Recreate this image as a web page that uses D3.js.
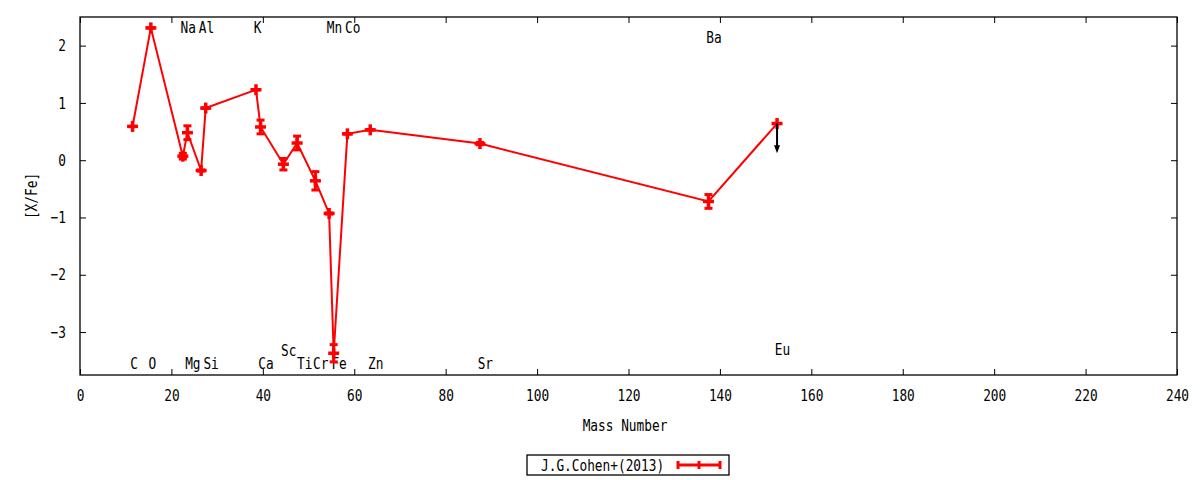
<!DOCTYPE html>
<html>
<head>
<meta charset="utf-8">
<script src="https://cdn.jsdelivr.net/npm/d3@7"></script>
<style>
  body { margin: 0; background: #fff; }
  text { font-family: "DejaVu Sans Mono", monospace; font-size: 16px; fill: #000; }
</style>
</head>
<body>
<section></section>
<script>
//Abundance points, x is where the point sits on the mass axis
const pointX = [11.5, 15.5, 22.5, 23.5, 26.5, 27.5, 38.5, 39.5, 44.5, 47.5, 51.5, 54.5, 55.5, 58.5, 63.5, 87.5, 137.5, 152.5];
const pointY = [0.59, 2.31, 0.07, 0.48, -0.18, 0.91, 1.23, 0.58, -0.07, 0.30, -0.36, -0.93, -3.37, 0.46, 0.53, 0.29, -0.72, 0.64];
const pointErr = [0.0, 0.0, 0.05, 0.12, 0.01, 0.0, 0.0, 0.12, 0.10, 0.12, 0.16, 0.01, 0.15, 0.0, 0.0, 0.02, 0.12, 0.0];

//Upper limit arrow (Eu)
const limitX = [152.5];
const limitFrom = [0.64];
const limitTo = [0.12];

//Element names written on the chart
const labelText = ["C", "O", "Na", "Mg", "Al", "Si", "K", "Ca", "Sc", "Ti", "Cr", "Mn", "Fe", "Co", "Zn", "Sr", "Ba", "Eu"];
const labelX = [11, 15, 22, 23, 26, 27, 38, 39, 44, 47.5, 51, 54, 55, 58, 63, 87, 137, 152];
const labelY = [-3.55, -3.55, 2.32, -3.55, 2.32, -3.55, 2.32, -3.55, -3.31, -3.55, -3.55, 2.32, -3.55, 2.32, -3.55, -3.55, 2.15, -3.30];

//Axis ticks
const xTicks = [0, 20, 40, 60, 80, 100, 120, 140, 160, 180, 200, 220, 240];
const yTicks = [-3, -2, -1, 0, 1, 2];

const seriesName = "J.G.Cohen+(2013)";

let width = 1200;
let height = 480;
const plotLeft = 80, plotRight = 1177, plotTop = 17, plotBottom = 375;
const squeeze = 0.8; //the font is narrower than DejaVu Sans Mono

let svg = d3
    .select("section")
    .append("svg")
    .attr("width", width)
    .attr("height", height);

//Scales
const x = d3.scaleLinear().domain([0, 240]).range([plotLeft, plotRight]);
const y = d3.scaleLinear().domain([-3.75, 2.5]).range([plotBottom, plotTop]);

//Helper to place narrow text
function narrow(sel, px, py, rotate) {
    sel.attr("x", 0).attr("y", 0)
        .attr("transform", `translate(${px},${py})` + (rotate ? ` rotate(${rotate})` : "") + ` scale(${squeeze},1)`);
}

//Axes with inward ticks, mirrored on top and right
svg.append("g")
    .attr("transform", `translate(0,${plotBottom})`)
    .call(d3.axisBottom(x).tickValues(xTicks).tickSize(-6).tickPadding(14.3).tickFormat(d3.format("d")))
    .call(g => g.selectAll("text").attr("transform", `scale(${squeeze},1)`));

svg.append("g")
    .attr("transform", `translate(0,${plotTop})`)
    .call(d3.axisTop(x).tickValues(xTicks).tickSize(-6).tickFormat(""));

svg.append("g")
    .attr("transform", `translate(${plotLeft},0)`)
    .call(d3.axisLeft(y).tickValues(yTicks).tickSize(-6).tickFormat(d3.format("d")))
    .call(g => g.selectAll("text").attr("x", 0).attr("transform", `translate(-14,0) scale(${squeeze},1)`));

svg.append("g")
    .attr("transform", `translate(${plotRight},0)`)
    .call(d3.axisRight(y).tickValues(yTicks).tickSize(-6).tickFormat(""));

svg.selectAll(".domain").remove();
svg.selectAll(".tick line").attr("stroke", "#000");
svg.selectAll(".tick text").style("font-family", "DejaVu Sans Mono").style("font-size", "16px").attr("fill", "#000");

//Frame
svg.append("rect")
    .attr("x", plotLeft)
    .attr("y", plotTop)
    .attr("width", plotRight - plotLeft)
    .attr("height", plotBottom - plotTop)
    .attr("fill", "none")
    .attr("stroke", "#000")
    .attr("stroke-width", 1.3);

//Axis titles
svg.append("text")
    .text("Mass Number")
    .attr("text-anchor", "middle")
    .call(narrow, 625, 431);

svg.append("text")
    .text("[X/Fe]")
    .attr("text-anchor", "middle")
    .call(narrow, 37, 196, -90);

//Element labels (drawn under the points)
labelText.forEach(function (name, i) {
    svg.append("text")
        .text(name)
        .attr("text-anchor", "start")
        .call(narrow, x(labelX[i]), y(labelY[i]) + 5.8);
});

//Connecting line
const points = pointX.map((px, i) => ({ x: px, y: pointY[i], err: pointErr[i] }));

svg.append("path")
    .datum(points)
    .attr("fill", "none")
    .attr("stroke", "red")
    .attr("stroke-width", 2)
    .attr("d", d3.line().x(d => x(d.x)).y(d => y(d.y)));

//Error bars with caps
const bars = svg.append("g").attr("stroke", "red").attr("stroke-width", 3);

bars.selectAll(".err")
    .data(points)
    .enter()
    .append("line")
    .attr("x1", d => x(d.x)).attr("x2", d => x(d.x))
    .attr("y1", d => y(d.y - d.err)).attr("y2", d => y(d.y + d.err));

bars.selectAll(".capTop")
    .data(points)
    .enter()
    .append("line")
    .attr("x1", d => x(d.x) - 4).attr("x2", d => x(d.x) + 4)
    .attr("y1", d => y(d.y + d.err)).attr("y2", d => y(d.y + d.err));

bars.selectAll(".capBottom")
    .data(points)
    .enter()
    .append("line")
    .attr("x1", d => x(d.x) - 4).attr("x2", d => x(d.x) + 4)
    .attr("y1", d => y(d.y - d.err)).attr("y2", d => y(d.y - d.err));

//Plus markers
const marks = svg.append("g").attr("stroke", "red").attr("stroke-width", 3.5);

marks.selectAll(".markH")
    .data(points)
    .enter()
    .append("line")
    .attr("x1", d => x(d.x) - 5.5).attr("x2", d => x(d.x) + 5.5)
    .attr("y1", d => y(d.y)).attr("y2", d => y(d.y));

marks.selectAll(".markV")
    .data(points)
    .enter()
    .append("line")
    .attr("x1", d => x(d.x)).attr("x2", d => x(d.x))
    .attr("y1", d => y(d.y) - 5.5).attr("y2", d => y(d.y) + 5.5);

//Upper limit arrow
limitX.forEach(function (lx, i) {
    const ax = x(lx);
    const y0 = y(limitFrom[i]);
    const y1 = y(limitTo[i]);
    svg.append("line")
        .attr("x1", ax).attr("x2", ax)
        .attr("y1", y0).attr("y2", y1 - 6)
        .attr("stroke", "#000")
        .attr("stroke-width", 2);
    svg.append("path")
        .attr("d", `M${ax - 3},${y1 - 8} L${ax + 3},${y1 - 8} L${ax},${y1} Z`)
        .attr("fill", "#000");
});

//Legend
const legend = svg.append("g");

legend.append("rect")
    .attr("x", 527)
    .attr("y", 455)
    .attr("width", 202)
    .attr("height", 20)
    .attr("fill", "none")
    .attr("stroke", "#000")
    .attr("stroke-width", 1.3);

legend.append("text")
    .text(seriesName)
    .attr("text-anchor", "start")
    .call(narrow, 541, 470.5);

const ly = 465, lx1 = 678, lx2 = 720;
legend.append("line")
    .attr("x1", lx1).attr("x2", lx2).attr("y1", ly).attr("y2", ly)
    .attr("stroke", "red").attr("stroke-width", 3);
[lx1, (lx1 + lx2) / 2, lx2].forEach(function (px) {
    legend.append("line")
        .attr("x1", px).attr("x2", px).attr("y1", ly - 4).attr("y2", ly + 4)
        .attr("stroke", "red").attr("stroke-width", 3);
});
</script>
</body>
</html>
